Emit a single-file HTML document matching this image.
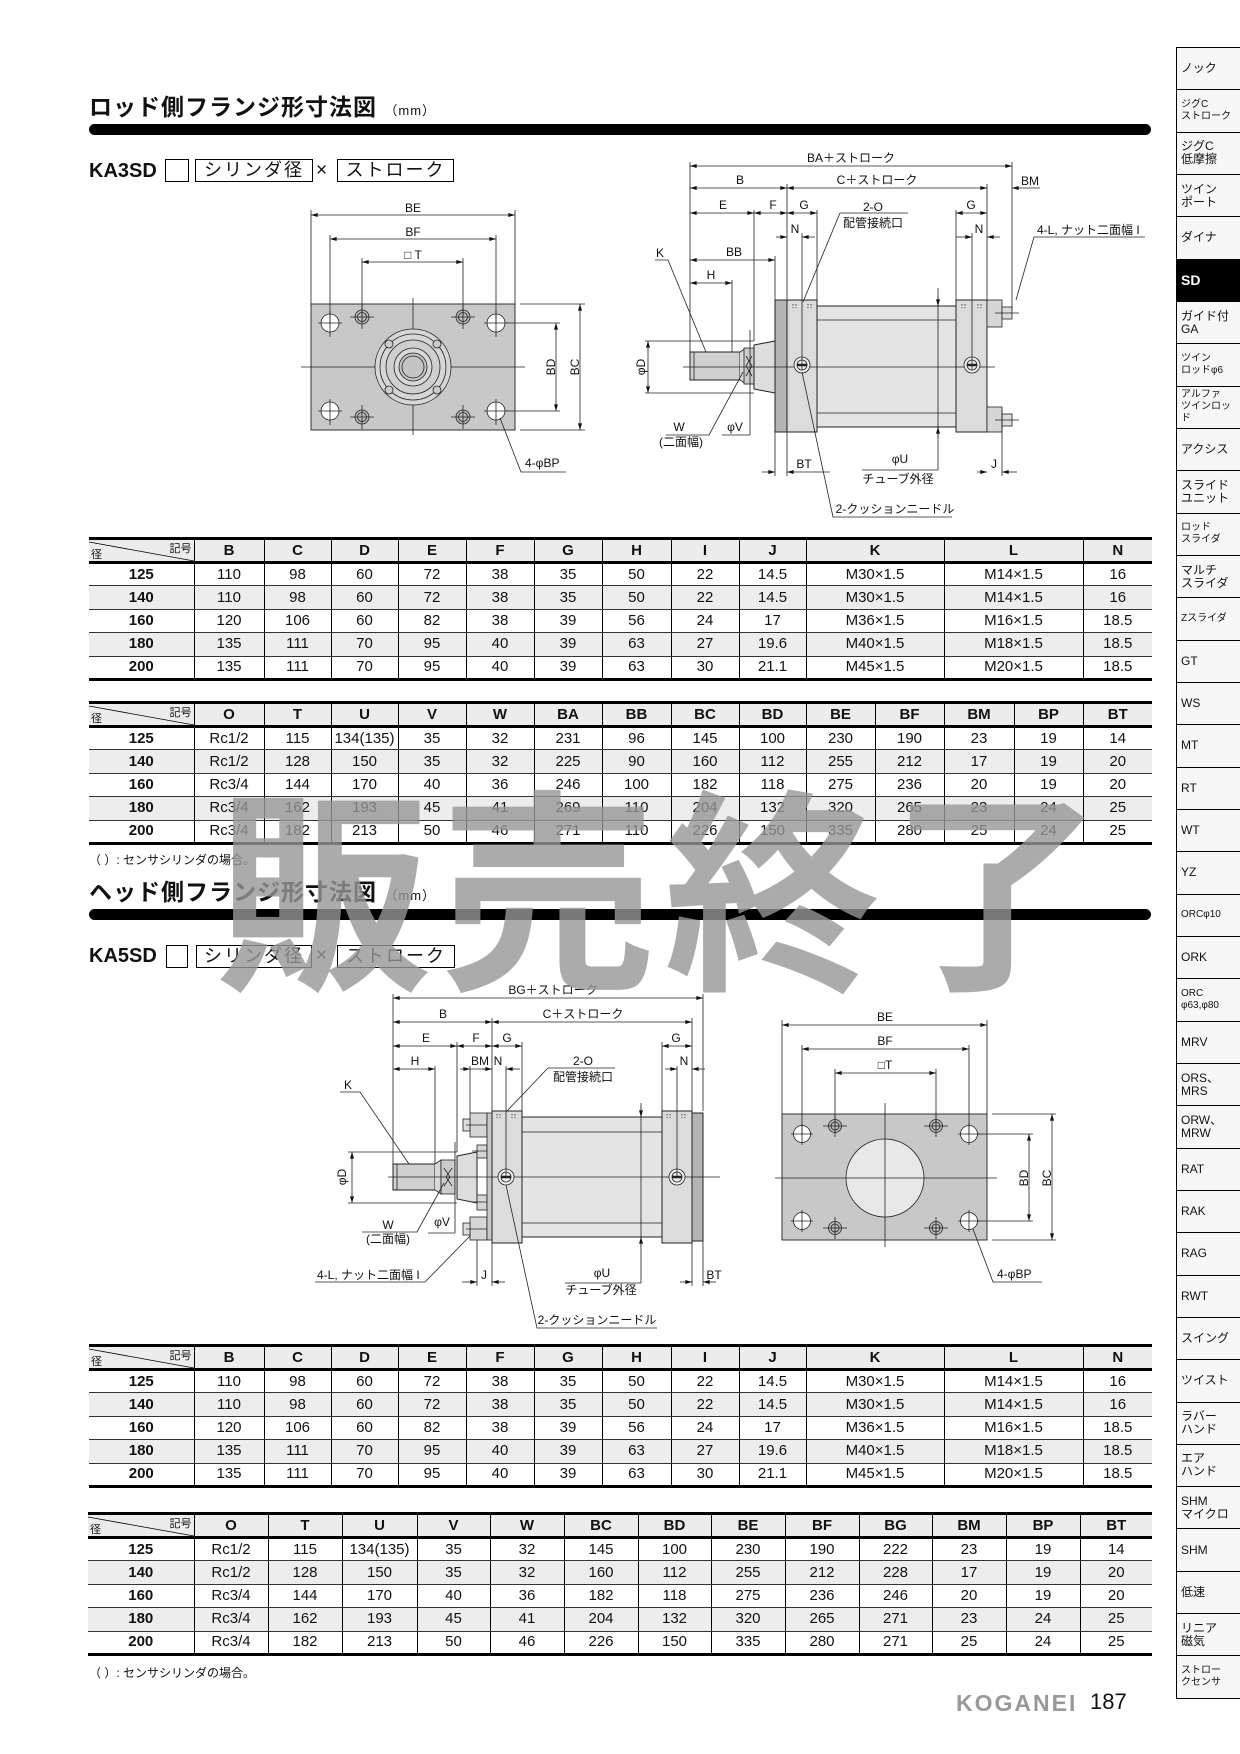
<!DOCTYPE html>
<html><head><meta charset="utf-8">
<style>
*{margin:0;padding:0;box-sizing:border-box}
body{width:1240px;height:1754px;position:relative;background:#fff;overflow:hidden;font-family:"Liberation Sans","Noto Sans CJK JP",sans-serif;color:#111}
.abs{position:absolute}
.title{position:absolute;left:89px;font-size:23px;font-weight:bold;line-height:26px;letter-spacing:1px}
.title small{font-size:13px;font-weight:normal}
.bar{position:absolute;left:89px;width:1062px;height:11px;background:#000;border-radius:6px}
.model{position:absolute;font-size:20px;font-weight:bold;line-height:23px}
.box{position:absolute;border:1px solid #000;font-size:18px;line-height:21px;text-align:center;height:23px;letter-spacing:2px}
.note{position:absolute;left:89px;font-size:12px}
.t{position:absolute;border-collapse:collapse;table-layout:fixed;font-family:"Liberation Sans","Noto Sans CJK JP",sans-serif;font-size:15px}
.t td{height:23.4px;padding:0;text-align:center;border-left:1px solid #000;border-bottom:1px solid #333;line-height:18px}
.t tr>td:first-child{border-left:none;font-weight:bold}
.t tr.h>td{border-top:3px solid #000;border-bottom:3px solid #000;background:#ececec;height:24px;font-weight:bold}
.t tr.g>td{background:#ededed}
.t tr.l>td{border-bottom:3px solid #000}
.t td.c{position:relative}
.t td.c svg{position:absolute;left:0;top:0}
.t td.c span{position:absolute;font-size:11px;font-weight:normal}
#side{position:absolute;left:1176px;top:47px;width:64px;border-left:1px solid #000;border-top:1px solid #000}
#side div{height:42.33px;border-bottom:1px solid #000;font-size:12px;line-height:13px;padding-left:4px;display:flex;align-items:center;background:#f7f7f7}
#side div.s{font-size:10px;line-height:12px}
#side div.k{background:#000;color:#fff;font-weight:bold;font-size:14px}
#wm{position:absolute;left:216px;top:772px;font-family:"Noto Sans CJK JP",sans-serif;font-weight:bold;font-size:216px;line-height:216px;letter-spacing:8px;color:rgba(150,150,150,0.8);white-space:nowrap;z-index:10}
svg text{font-family:"Liberation Sans","Noto Sans CJK JP",sans-serif;font-size:12px;fill:#111}
</style></head><body>

<div class="title" style="top:94px">ロッド側フランジ形寸法図 <small>（mm）</small></div>
<div class="bar" style="top:124px"></div>
<div class="model" style="left:89px;top:160px">KA3SD</div>
<div class="box" style="left:165px;top:159px;width:24px"></div>
<div class="box" style="left:195px;top:159px;width:118px">シリンダ径</div>
<div class="abs" style="left:316px;top:160px;font-size:19px">×</div>
<div class="box" style="left:337px;top:159px;width:117px">ストローク</div>

<div class="title" style="top:879px">ヘッド側フランジ形寸法図 <small>（mm）</small></div>
<div class="bar" style="top:909px"></div>
<div class="model" style="left:89px;top:945px">KA5SD</div>
<div class="box" style="left:166px;top:945px;width:22px"></div>
<div class="box" style="left:196px;top:945px;width:116px">シリンダ径</div>
<div class="abs" style="left:316px;top:945px;font-size:19px">×</div>
<div class="box" style="left:337px;top:945px;width:118px">ストローク</div>

<svg class="abs" style="left:0;top:0" width="1240" height="1754" viewBox="0 0 1240 1754">
<defs>
<marker id="a" viewBox="0 0 10 6" refX="10" refY="3" markerWidth="7" markerHeight="4" markerUnits="userSpaceOnUse" orient="auto-start-reverse"><path d="M0,0L10,3L0,6z" fill="#111"/></marker>
</defs>
<g stroke="#222" stroke-width="0.8" fill="none">
<rect x="311" y="304" width="204" height="126" fill="#c8c8c8" stroke="#333" stroke-width="1"/>
<line x1="301" y1="367" x2="525" y2="367"/><line x1="413" y1="298" x2="413" y2="435"/>
<g fill="#fff"><circle cx="330" cy="323" r="9"/><circle cx="496" cy="323" r="9"/><circle cx="330" cy="411" r="9"/><circle cx="496" cy="411" r="9"/></g>
<g><path d="M318 323h24M330 311v26M484 323h24M496 311v26M318 411h24M330 399v26M484 411h24M496 399v26"/></g>
<g fill="#bbb"><circle cx="362" cy="317" r="7"/><circle cx="463" cy="317" r="7"/><circle cx="362" cy="417" r="7"/><circle cx="463" cy="417" r="7"/></g>
<g><circle cx="362" cy="317" r="4.5"/><circle cx="463" cy="317" r="4.5"/><circle cx="362" cy="417" r="4.5"/><circle cx="463" cy="417" r="4.5"/>
<path d="M350 317h24M362 305v24M451 317h24M463 305v24M350 417h24M362 405v24M451 417h24M463 405v24"/></g>
<circle cx="413" cy="367" r="38" fill="#d6d6d6"/><circle cx="413" cy="367" r="33"/><circle cx="413" cy="367" r="27" fill="#cfcfcf"/>
<circle cx="413" cy="367" r="19" fill="#d8d8d8"/><circle cx="413" cy="367" r="14" fill="#c4c4c4"/><circle cx="413" cy="367" r="11"/>
<g fill="#ccc"><circle cx="389" cy="344" r="4"/><circle cx="437" cy="344" r="4"/><circle cx="389" cy="390" r="4"/><circle cx="437" cy="390" r="4"/></g>
<path d="M311 210v94M515 210v94M330 235v88M496 235v88M362 258v59M463 258v59"/>
<line x1="311" y1="215" x2="515" y2="215" marker-start="url(#a)" marker-end="url(#a)"/>
<line x1="330" y1="239" x2="496" y2="239" marker-start="url(#a)" marker-end="url(#a)"/>
<line x1="362" y1="262" x2="463" y2="262" marker-start="url(#a)" marker-end="url(#a)"/>
<path d="M505 323h55M505 411h55M520 304h65M520 430h65"/>
<line x1="556" y1="323" x2="556" y2="411" marker-start="url(#a)" marker-end="url(#a)"/>
<line x1="580" y1="304" x2="580" y2="430" marker-start="url(#a)" marker-end="url(#a)"/>
<path d="M500 418L521 472H566"/>

<rect x="690" y="352" width="50" height="28" fill="#d0d0d0" stroke-width="1"/>
<path d="M694 352v28M740 352l6 -4v36l-6-4" fill="#d8d8d8"/>
<rect x="744" y="348" width="10" height="36" fill="#ccc"/>
<path d="M746 356l6 10-6 10M752 356l-6 10 6 10"/>
<path d="M754 345L775 341V393L754 389Z" fill="#ddd" stroke-width="1"/>
<rect x="775" y="300" width="12" height="132" fill="#b4b4b4" stroke-width="1"/>
<rect x="787" y="300" width="30" height="132" fill="#dcdcdc" stroke-width="1"/>
<rect x="817" y="306" width="139" height="121" fill="#e4e4e4" stroke-width="1"/>
<path d="M817 320h139M817 413h139"/>
<rect x="956" y="300" width="31" height="132" fill="#dcdcdc" stroke-width="1"/>
<rect x="987" y="300" width="15" height="27" fill="#d6d6d6"/><rect x="987" y="407" width="15" height="25" fill="#d6d6d6"/>
<rect x="1002" y="307" width="10" height="12" fill="#ddd"/><rect x="1002" y="414" width="10" height="12" fill="#ddd"/>
<path d="M995 313h24M995 420h24"/>
<line x1="683" y1="367" x2="995" y2="367"/>
<circle cx="802" cy="365" r="8" fill="#eee"/><circle cx="802" cy="365" r="5"/><path d="M797 365h10" stroke-width="2.5"/>
<circle cx="972" cy="365" r="8" fill="#eee"/><circle cx="972" cy="365" r="5"/><path d="M967 365h10" stroke-width="2.5"/>
<path d="M793 304v4M796 304v4M808 304v4M811 304v4M962 304v4M965 304v4M978 304v4M981 304v4" stroke-dasharray="1.5 1.5"/>
<path d="M690 162v190M1012 162v148M787 184v116M987 184v116M754 210v131M817 210v90M956 210v90M775 256v44M732 280v72M802 233v137M972 233v137"/>
<line x1="690" y1="166" x2="1012" y2="166" marker-start="url(#a)" marker-end="url(#a)"/>
<line x1="690" y1="188" x2="787" y2="188" marker-start="url(#a)" marker-end="url(#a)"/>
<line x1="787" y1="188" x2="987" y2="188" marker-start="url(#a)" marker-end="url(#a)"/>
<line x1="1040" y1="188" x2="1012" y2="188" marker-end="url(#a)"/>
<line x1="690" y1="213" x2="754" y2="213" marker-start="url(#a)" marker-end="url(#a)"/>
<line x1="754" y1="213" x2="787" y2="213" marker-start="url(#a)" marker-end="url(#a)"/>
<line x1="787" y1="213" x2="817" y2="213" marker-start="url(#a)" marker-end="url(#a)"/>
<line x1="956" y1="213" x2="987" y2="213" marker-start="url(#a)" marker-end="url(#a)"/>
<line x1="776" y1="237" x2="787" y2="237" marker-end="url(#a)"/><line x1="815" y1="237" x2="802" y2="237" marker-end="url(#a)"/>
<line x1="956" y1="237" x2="972" y2="237" marker-end="url(#a)"/><line x1="1000" y1="237" x2="987" y2="237" marker-end="url(#a)"/>
<line x1="690" y1="260" x2="775" y2="260" marker-start="url(#a)" marker-end="url(#a)"/>
<line x1="690" y1="283" x2="732" y2="283" marker-start="url(#a)" marker-end="url(#a)"/>
<path d="M645 341h109M645 393h109"/>
<line x1="648" y1="341" x2="648" y2="393" marker-start="url(#a)" marker-end="url(#a)"/>
<path d="M750 330v105M722 435h28"/>
<path d="M743 372L709 435H666"/>
<path d="M655 260H668L706 352"/>
<path d="M840 213H908M840 213L803 302"/>
<path d="M775 432v44M787 432v44"/>
<line x1="762" y1="472" x2="775" y2="472" marker-end="url(#a)"/><line x1="830" y1="472" x2="787" y2="472" marker-end="url(#a)"/>
<path d="M938 288v182M862 470h76"/>
<line x1="938" y1="296" x2="938" y2="306" marker-end="url(#a)"/><line x1="938" y1="437" x2="938" y2="427" marker-end="url(#a)"/>
<path d="M1002 410v66"/>
<line x1="977" y1="472" x2="987" y2="472" marker-end="url(#a)"/><line x1="1017" y1="472" x2="1002" y2="472" marker-end="url(#a)"/>
<path d="M802 372L833 517H952"/>
<path d="M1016 300L1034 237H1145"/>

<rect x="393" y="1164" width="42" height="26" fill="#d0d0d0" stroke-width="1"/>
<path d="M397 1164v26M435 1164l6-4v34l-6-4" fill="#d8d8d8"/>
<rect x="441" y="1160" width="14" height="34" fill="#ccc"/>
<path d="M444 1168l6 9-6 9M452 1168l-6 9 6 9"/>
<path d="M457 1156L477 1152V1203L457 1199Z" fill="#ddd" stroke-width="1"/>
<rect x="470" y="1113" width="17" height="24" fill="#d6d6d6"/><rect x="470" y="1217" width="17" height="23" fill="#d6d6d6"/>
<rect x="477" y="1145" width="10" height="13" fill="#d6d6d6"/><rect x="477" y="1195" width="10" height="15" fill="#d6d6d6"/>
<rect x="463" y="1119" width="7" height="12" fill="#ddd"/><rect x="463" y="1223" width="7" height="12" fill="#ddd"/>
<path d="M466 1125h28M466 1229h28M472 1151h22M472 1202h22"/>
<rect x="487" y="1113" width="5" height="127" fill="#c8c8c8"/>
<rect x="492" y="1111" width="30" height="132" fill="#dcdcdc" stroke-width="1"/>
<rect x="522" y="1117" width="140" height="120" fill="#e4e4e4" stroke-width="1"/>
<path d="M522 1132h140M522 1223h140"/>
<rect x="662" y="1111" width="30" height="132" fill="#dcdcdc" stroke-width="1"/>
<rect x="692" y="1113" width="11" height="128" fill="#b4b4b4" stroke-width="1"/>
<line x1="388" y1="1177" x2="720" y2="1177"/>
<circle cx="506" cy="1177" r="8" fill="#eee"/><circle cx="506" cy="1177" r="5"/><path d="M501 1177h10" stroke-width="2.5"/>
<circle cx="677" cy="1177" r="8" fill="#eee"/><circle cx="677" cy="1177" r="5"/><path d="M672 1177h10" stroke-width="2.5"/>
<path d="M497 1114v4M500 1114v4M512 1114v4M515 1114v4M667 1114v4M670 1114v4M682 1114v4M685 1114v4" stroke-dasharray="1.5 1.5"/>
<path d="M393 994v170M703 994v117M492 1018v93M692 1018v93M457 1042v110M522 1042v69M662 1042v69M435 1066v98M470 1066v47M506 1066v111M677 1066v111"/>
<line x1="393" y1="998" x2="703" y2="998" marker-start="url(#a)" marker-end="url(#a)"/>
<line x1="393" y1="1022" x2="492" y2="1022" marker-start="url(#a)" marker-end="url(#a)"/>
<line x1="492" y1="1022" x2="692" y2="1022" marker-start="url(#a)" marker-end="url(#a)"/>
<line x1="393" y1="1046" x2="457" y2="1046" marker-start="url(#a)" marker-end="url(#a)"/>
<line x1="457" y1="1046" x2="492" y2="1046" marker-start="url(#a)" marker-end="url(#a)"/>
<line x1="492" y1="1046" x2="522" y2="1046" marker-start="url(#a)" marker-end="url(#a)"/>
<line x1="662" y1="1046" x2="692" y2="1046" marker-start="url(#a)" marker-end="url(#a)"/>
<line x1="393" y1="1069" x2="435" y2="1069" marker-start="url(#a)" marker-end="url(#a)"/>
<line x1="460" y1="1069" x2="470" y2="1069" marker-end="url(#a)"/><line x1="470" y1="1069" x2="492" y2="1069"/>
<line x1="482" y1="1069" x2="492" y2="1069" marker-end="url(#a)"/><line x1="520" y1="1069" x2="506" y2="1069" marker-end="url(#a)"/>
<line x1="665" y1="1069" x2="677" y2="1069" marker-end="url(#a)"/><line x1="705" y1="1069" x2="692" y2="1069" marker-end="url(#a)"/>
<path d="M348 1152h109M348 1203h109"/>
<line x1="352" y1="1152" x2="352" y2="1203" marker-start="url(#a)" marker-end="url(#a)"/>
<path d="M455 1142v91M428 1233h27"/>
<path d="M444 1183L417 1232H362"/>
<path d="M340 1092H360L409 1164"/>
<path d="M548 1068H615M548 1068L507 1111"/>
<path d="M315 1282H425L470 1236"/>
<path d="M477 1240v46M492 1243v43"/>
<line x1="462" y1="1282" x2="477" y2="1282" marker-end="url(#a)"/><line x1="505" y1="1282" x2="492" y2="1282" marker-end="url(#a)"/>
<path d="M641 1103v180M565 1283h76"/>
<line x1="641" y1="1107" x2="641" y2="1117" marker-end="url(#a)"/><line x1="641" y1="1247" x2="641" y2="1237" marker-end="url(#a)"/>
<path d="M692 1243v43M703 1241v45"/>
<line x1="680" y1="1282" x2="692" y2="1282" marker-end="url(#a)"/><line x1="716" y1="1282" x2="703" y2="1282" marker-end="url(#a)"/>
<path d="M506 1185L537 1328H657"/>

<rect x="782" y="1114" width="205" height="126" fill="#c8c8c8" stroke="#333" stroke-width="1"/>
<circle cx="885" cy="1178" r="39" fill="#e8e8e8"/>
<line x1="775" y1="1178" x2="997" y2="1178"/><line x1="885" y1="1103" x2="885" y2="1247"/>
<g fill="#fff"><circle cx="802" cy="1134" r="8.5"/><circle cx="969" cy="1134" r="8.5"/><circle cx="802" cy="1221" r="8.5"/><circle cx="969" cy="1221" r="8.5"/></g>
<path d="M791 1134h22M802 1123v22M958 1134h22M969 1123v22M791 1221h22M802 1210v22M958 1221h22M969 1210v22"/>
<g fill="#bbb"><circle cx="835" cy="1126" r="6.5"/><circle cx="936" cy="1126" r="6.5"/><circle cx="835" cy="1228" r="6.5"/><circle cx="936" cy="1228" r="6.5"/></g>
<g><circle cx="835" cy="1126" r="4"/><circle cx="936" cy="1126" r="4"/><circle cx="835" cy="1228" r="4"/><circle cx="936" cy="1228" r="4"/>
<path d="M823 1126h24M835 1115v22M924 1126h24M936 1115v22M823 1228h24M835 1217v22M924 1228h24M936 1217v22"/></g>
<path d="M782 1020v94M987 1020v94M802 1045v89M969 1045v89M835 1069v57M936 1069v57"/>
<line x1="782" y1="1025" x2="987" y2="1025" marker-start="url(#a)" marker-end="url(#a)"/>
<line x1="802" y1="1049" x2="969" y2="1049" marker-start="url(#a)" marker-end="url(#a)"/>
<line x1="835" y1="1073" x2="936" y2="1073" marker-start="url(#a)" marker-end="url(#a)"/>
<path d="M978 1134h55M978 1221h55M992 1114h64M992 1240h64"/>
<line x1="1029" y1="1134" x2="1029" y2="1221" marker-start="url(#a)" marker-end="url(#a)"/>
<line x1="1052" y1="1114" x2="1052" y2="1240" marker-start="url(#a)" marker-end="url(#a)"/>
<path d="M973 1229L993 1282H1042"/>
</g>

<g>
<text x="413" y="212" text-anchor="middle">BE</text>
<text x="413" y="236" text-anchor="middle">BF</text>
<text x="413" y="259" text-anchor="middle">□ T</text>
<text transform="translate(555,367) rotate(-90)" text-anchor="middle">BD</text>
<text transform="translate(579,367) rotate(-90)" text-anchor="middle">BC</text>
<text x="525" y="467" font-size="11">4-φBP</text>
<text x="851" y="162" text-anchor="middle">BA＋ストローク</text>
<text x="740" y="184" text-anchor="middle">B</text>
<text x="877" y="184" text-anchor="middle">C＋ストローク</text>
<text x="1030" y="185" text-anchor="middle">BM</text>
<text x="723" y="209" text-anchor="middle">E</text>
<text x="773" y="209" text-anchor="middle">F</text>
<text x="804" y="209" text-anchor="middle">G</text>
<text x="971" y="209" text-anchor="middle">G</text>
<text x="795" y="233" text-anchor="middle">N</text>
<text x="979" y="233" text-anchor="middle">N</text>
<text x="873" y="211" text-anchor="middle">2-O</text>
<text x="873" y="227" text-anchor="middle">配管接続口</text>
<text x="734" y="256" text-anchor="middle">BB</text>
<text x="711" y="279" text-anchor="middle">H</text>
<text x="660" y="257" text-anchor="middle">K</text>
<text transform="translate(645,367) rotate(-90)" text-anchor="middle">φD</text>
<text x="679" y="431" text-anchor="middle">W</text>
<text x="681" y="446" text-anchor="middle" font-size="11">(二面幅)</text>
<text x="735" y="431" text-anchor="middle">φV</text>
<text x="804" y="468" text-anchor="middle">BT</text>
<text x="900" y="463" text-anchor="middle">φU</text>
<text x="898" y="483" text-anchor="middle">チューブ外径</text>
<text x="994" y="468" text-anchor="middle">J</text>
<text x="895" y="513" text-anchor="middle" font-size="11">2-クッションニードル</text>
<text x="1037" y="234" font-size="11">4-L, ナット二面幅 I</text>
<text x="553" y="994" text-anchor="middle">BG＋ストローク</text>
<text x="443" y="1018" text-anchor="middle">B</text>
<text x="583" y="1018" text-anchor="middle">C＋ストローク</text>
<text x="426" y="1042" text-anchor="middle">E</text>
<text x="476" y="1042" text-anchor="middle">F</text>
<text x="507" y="1042" text-anchor="middle">G</text>
<text x="676" y="1042" text-anchor="middle">G</text>
<text x="415" y="1065" text-anchor="middle">H</text>
<text x="480" y="1065" text-anchor="middle">BM</text>
<text x="498" y="1065" text-anchor="middle">N</text>
<text x="684" y="1065" text-anchor="middle">N</text>
<text x="583" y="1065" text-anchor="middle">2-O</text>
<text x="583" y="1081" text-anchor="middle">配管接続口</text>
<text x="348" y="1089" text-anchor="middle">K</text>
<text transform="translate(346,1177) rotate(-90)" text-anchor="middle">φD</text>
<text x="388" y="1229" text-anchor="middle">W</text>
<text x="388" y="1243" text-anchor="middle" font-size="11">(二面幅)</text>
<text x="442" y="1226" text-anchor="middle">φV</text>
<text x="317" y="1279" font-size="11">4-L, ナット二面幅 I</text>
<text x="484" y="1279" text-anchor="middle">J</text>
<text x="602" y="1277" text-anchor="middle">φU</text>
<text x="601" y="1294" text-anchor="middle">チューブ外径</text>
<text x="714" y="1279" text-anchor="middle">BT</text>
<text x="597" y="1324" text-anchor="middle" font-size="11">2-クッションニードル</text>
<text x="885" y="1021" text-anchor="middle">BE</text>
<text x="885" y="1045" text-anchor="middle">BF</text>
<text x="885" y="1069" text-anchor="middle">□T</text>
<text transform="translate(1028,1178) rotate(-90)" text-anchor="middle">BD</text>
<text transform="translate(1051,1178) rotate(-90)" text-anchor="middle">BC</text>
<text x="997" y="1278" font-size="11">4-φBP</text>
</g>
</svg>

<table class="t" style="left:89px;top:537px;width:1063px">
<colgroup><col style="width:105px"><col style="width:70px"><col style="width:67px"><col style="width:67px"><col style="width:68px"><col style="width:68px"><col style="width:68px"><col style="width:69px"><col style="width:68px"><col style="width:67px"><col style="width:138px"><col style="width:139px"><col style="width:69px"></colgroup>
<tr class="h"><td class="c"><svg width="105" height="22"><line x1="0" y1="2" x2="105" y2="21" stroke="#000" stroke-width="0.8"/></svg><span style="left:2px;top:6px">径</span><span style="right:2px;top:0">記号</span></td><td>B</td><td>C</td><td>D</td><td>E</td><td>F</td><td>G</td><td>H</td><td>I</td><td>J</td><td>K</td><td>L</td><td>N</td></tr>
<tr><td>125</td><td>110</td><td>98</td><td>60</td><td>72</td><td>38</td><td>35</td><td>50</td><td>22</td><td>14.5</td><td>M30×1.5</td><td>M14×1.5</td><td>16</td></tr>
<tr class="g"><td>140</td><td>110</td><td>98</td><td>60</td><td>72</td><td>38</td><td>35</td><td>50</td><td>22</td><td>14.5</td><td>M30×1.5</td><td>M14×1.5</td><td>16</td></tr>
<tr><td>160</td><td>120</td><td>106</td><td>60</td><td>82</td><td>38</td><td>39</td><td>56</td><td>24</td><td>17</td><td>M36×1.5</td><td>M16×1.5</td><td>18.5</td></tr>
<tr class="g"><td>180</td><td>135</td><td>111</td><td>70</td><td>95</td><td>40</td><td>39</td><td>63</td><td>27</td><td>19.6</td><td>M40×1.5</td><td>M18×1.5</td><td>18.5</td></tr>
<tr class="l"><td>200</td><td>135</td><td>111</td><td>70</td><td>95</td><td>40</td><td>39</td><td>63</td><td>30</td><td>21.1</td><td>M45×1.5</td><td>M20×1.5</td><td>18.5</td></tr>
</table>

<table class="t" style="left:89px;top:701px;width:1063px">
<colgroup><col style="width:105px"><col style="width:70px"><col style="width:67px"><col style="width:67px"><col style="width:68px"><col style="width:68px"><col style="width:68px"><col style="width:69px"><col style="width:68px"><col style="width:67px"><col style="width:69px"><col style="width:69px"><col style="width:70px"><col style="width:69px"><col style="width:69px"></colgroup>
<tr class="h"><td class="c"><svg width="105" height="22"><line x1="0" y1="2" x2="105" y2="21" stroke="#000" stroke-width="0.8"/></svg><span style="left:2px;top:6px">径</span><span style="right:2px;top:0">記号</span></td><td>O</td><td>T</td><td>U</td><td>V</td><td>W</td><td>BA</td><td>BB</td><td>BC</td><td>BD</td><td>BE</td><td>BF</td><td>BM</td><td>BP</td><td>BT</td></tr>
<tr><td>125</td><td>Rc1/2</td><td>115</td><td>134(135)</td><td>35</td><td>32</td><td>231</td><td>96</td><td>145</td><td>100</td><td>230</td><td>190</td><td>23</td><td>19</td><td>14</td></tr>
<tr class="g"><td>140</td><td>Rc1/2</td><td>128</td><td>150</td><td>35</td><td>32</td><td>225</td><td>90</td><td>160</td><td>112</td><td>255</td><td>212</td><td>17</td><td>19</td><td>20</td></tr>
<tr><td>160</td><td>Rc3/4</td><td>144</td><td>170</td><td>40</td><td>36</td><td>246</td><td>100</td><td>182</td><td>118</td><td>275</td><td>236</td><td>20</td><td>19</td><td>20</td></tr>
<tr class="g"><td>180</td><td>Rc3/4</td><td>162</td><td>193</td><td>45</td><td>41</td><td>269</td><td>110</td><td>204</td><td>132</td><td>320</td><td>265</td><td>23</td><td>24</td><td>25</td></tr>
<tr class="l"><td>200</td><td>Rc3/4</td><td>182</td><td>213</td><td>50</td><td>46</td><td>271</td><td>110</td><td>226</td><td>150</td><td>335</td><td>280</td><td>25</td><td>24</td><td>25</td></tr>
</table>
<div class="note" style="top:851px">（ ）: センサシリンダの場合。</div>

<table class="t" style="left:89px;top:1344px;width:1063px">
<colgroup><col style="width:105px"><col style="width:70px"><col style="width:67px"><col style="width:67px"><col style="width:68px"><col style="width:68px"><col style="width:68px"><col style="width:69px"><col style="width:68px"><col style="width:67px"><col style="width:138px"><col style="width:139px"><col style="width:69px"></colgroup>
<tr class="h"><td class="c"><svg width="105" height="22"><line x1="0" y1="2" x2="105" y2="21" stroke="#000" stroke-width="0.8"/></svg><span style="left:2px;top:6px">径</span><span style="right:2px;top:0">記号</span></td><td>B</td><td>C</td><td>D</td><td>E</td><td>F</td><td>G</td><td>H</td><td>I</td><td>J</td><td>K</td><td>L</td><td>N</td></tr>
<tr><td>125</td><td>110</td><td>98</td><td>60</td><td>72</td><td>38</td><td>35</td><td>50</td><td>22</td><td>14.5</td><td>M30×1.5</td><td>M14×1.5</td><td>16</td></tr>
<tr class="g"><td>140</td><td>110</td><td>98</td><td>60</td><td>72</td><td>38</td><td>35</td><td>50</td><td>22</td><td>14.5</td><td>M30×1.5</td><td>M14×1.5</td><td>16</td></tr>
<tr><td>160</td><td>120</td><td>106</td><td>60</td><td>82</td><td>38</td><td>39</td><td>56</td><td>24</td><td>17</td><td>M36×1.5</td><td>M16×1.5</td><td>18.5</td></tr>
<tr class="g"><td>180</td><td>135</td><td>111</td><td>70</td><td>95</td><td>40</td><td>39</td><td>63</td><td>27</td><td>19.6</td><td>M40×1.5</td><td>M18×1.5</td><td>18.5</td></tr>
<tr class="l"><td>200</td><td>135</td><td>111</td><td>70</td><td>95</td><td>40</td><td>39</td><td>63</td><td>30</td><td>21.1</td><td>M45×1.5</td><td>M20×1.5</td><td>18.5</td></tr>
</table>

<table class="t" style="left:88px;top:1512px;width:1064px">
<colgroup><col style="width:106px"><col style="width:74px"><col style="width:74px"><col style="width:75px"><col style="width:73px"><col style="width:74px"><col style="width:74px"><col style="width:73px"><col style="width:74px"><col style="width:74px"><col style="width:73px"><col style="width:74px"><col style="width:74px"><col style="width:72px"></colgroup>
<tr class="h"><td class="c"><svg width="106" height="22"><line x1="0" y1="2" x2="106" y2="21" stroke="#000" stroke-width="0.8"/></svg><span style="left:2px;top:6px">径</span><span style="right:2px;top:0">記号</span></td><td>O</td><td>T</td><td>U</td><td>V</td><td>W</td><td>BC</td><td>BD</td><td>BE</td><td>BF</td><td>BG</td><td>BM</td><td>BP</td><td>BT</td></tr>
<tr><td>125</td><td>Rc1/2</td><td>115</td><td>134(135)</td><td>35</td><td>32</td><td>145</td><td>100</td><td>230</td><td>190</td><td>222</td><td>23</td><td>19</td><td>14</td></tr>
<tr class="g"><td>140</td><td>Rc1/2</td><td>128</td><td>150</td><td>35</td><td>32</td><td>160</td><td>112</td><td>255</td><td>212</td><td>228</td><td>17</td><td>19</td><td>20</td></tr>
<tr><td>160</td><td>Rc3/4</td><td>144</td><td>170</td><td>40</td><td>36</td><td>182</td><td>118</td><td>275</td><td>236</td><td>246</td><td>20</td><td>19</td><td>20</td></tr>
<tr class="g"><td>180</td><td>Rc3/4</td><td>162</td><td>193</td><td>45</td><td>41</td><td>204</td><td>132</td><td>320</td><td>265</td><td>271</td><td>23</td><td>24</td><td>25</td></tr>
<tr class="l"><td>200</td><td>Rc3/4</td><td>182</td><td>213</td><td>50</td><td>46</td><td>226</td><td>150</td><td>335</td><td>280</td><td>271</td><td>25</td><td>24</td><td>25</td></tr>
</table>
<div class="note" style="top:1664px">（ ）: センサシリンダの場合。</div>

<div class="abs" style="left:956px;top:1690px;font-size:23px;font-weight:bold;color:#999;letter-spacing:2px">KOGANEI</div>
<div class="abs" style="left:1090px;top:1689px;font-size:22px;color:#111">187</div>

<div id="side">
<div>ノック</div>
<div class="s">ジグC<br>ストローク</div>
<div>ジグC<br>低摩擦</div>
<div>ツイン<br>ポート</div>
<div>ダイナ</div>
<div class="k">SD</div>
<div>ガイド付<br>GA</div>
<div class="s">ツイン<br>ロッドφ6</div>
<div class="s">アルファ<br>ツインロッド</div>
<div>アクシス</div>
<div>スライド<br>ユニット</div>
<div class="s">ロッド<br>スライダ</div>
<div>マルチ<br>スライダ</div>
<div class="s">Zスライダ</div>
<div>GT</div>
<div>WS</div>
<div>MT</div>
<div>RT</div>
<div>WT</div>
<div>YZ</div>
<div class="s">ORCφ10</div>
<div>ORK</div>
<div class="s">ORC<br>φ63,φ80</div>
<div>MRV</div>
<div>ORS、<br>MRS</div>
<div>ORW、<br>MRW</div>
<div>RAT</div>
<div>RAK</div>
<div>RAG</div>
<div>RWT</div>
<div>スイング</div>
<div>ツイスト</div>
<div>ラバー<br>ハンド</div>
<div>エア<br>ハンド</div>
<div>SHM<br>マイクロ</div>
<div>SHM</div>
<div>低速</div>
<div>リニア<br>磁気</div>
<div class="s">ストロー<br>クセンサ</div>
</div>

<div id="wm">販売終了</div>
</body></html>
